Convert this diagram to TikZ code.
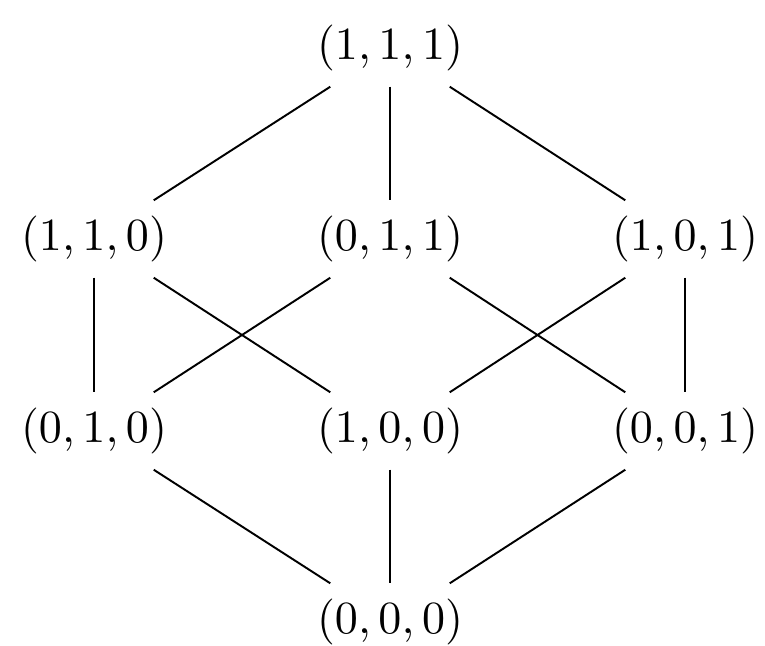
\documentclass[tikz,border=0pt]{standalone}
\usepackage{graphicx}
\newcommand{\vlab}[1]{\makebox[0pt]{\scalebox{1.31}{$#1$}}}
\begin{document}
\begin{tikzpicture}[x=0.01cm,y=-0.01cm,
  vtx/.style={rectangle,inner sep=0pt,minimum width=1.18cm,minimum height=0.76cm},
  edge/.style={line width=0.55pt,black}]
\useasboundingbox (0,0) rectangle (765,645);
\node[vtx] (t)   at (390,48)  {\vlab{(1,1,1)}};
\node[vtx] (a)   at (94,239)  {\vlab{(1,1,0)}};
\node[vtx] (b)   at (390,239) {\vlab{(0,1,1)}};
\node[vtx] (c)   at (685,239) {\vlab{(1,0,1)}};
\node[vtx] (d)   at (94,431)  {\vlab{(0,1,0)}};
\node[vtx] (e)   at (390,431) {\vlab{(1,0,0)}};
\node[vtx] (f)   at (685,431) {\vlab{(0,0,1)}};
\node[vtx] (z)   at (390,622) {\vlab{(0,0,0)}};
% top
\draw[edge] (t.south west) -- (a.north east);
\draw[edge] (t.south) -- (b.north);
\draw[edge] (t.south east) -- (c.north west);
% middle
\draw[edge] (a.south) -- (d.north);
\draw[edge] (a.south east) -- (e.north west);
\draw[edge] (b.south west) -- (d.north east);
\draw[edge] (b.south east) -- (f.north west);
\draw[edge] (c.south west) -- (e.north east);
\draw[edge] (c.south) -- (f.north);
% bottom
\draw[edge] (d.south east) -- (z.north west);
\draw[edge] (e.south) -- (z.north);
\draw[edge] (f.south west) -- (z.north east);
\end{tikzpicture}
\end{document}
